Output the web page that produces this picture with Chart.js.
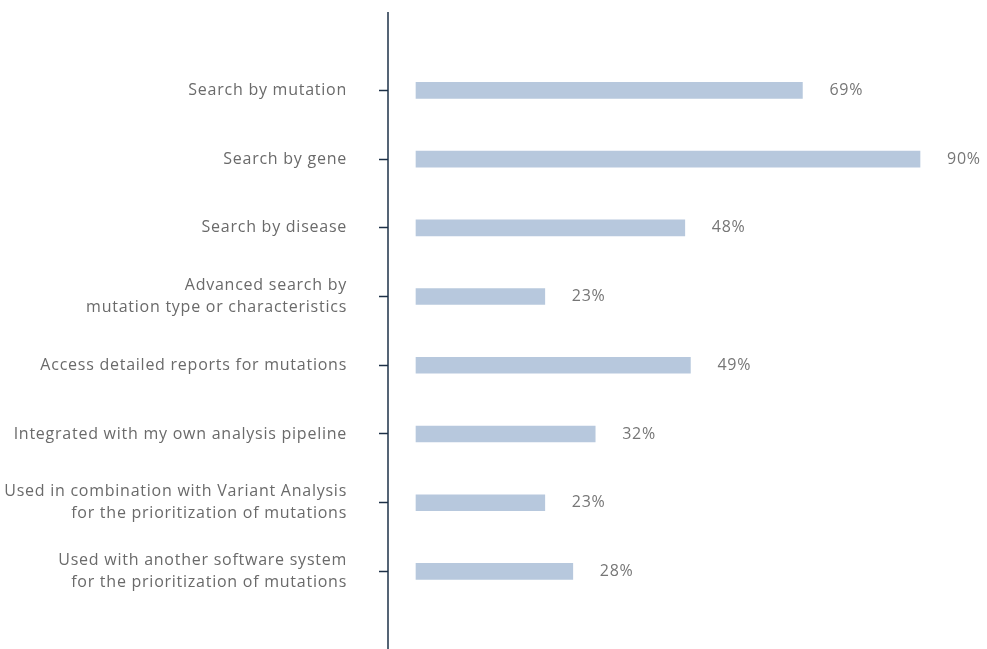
<!DOCTYPE html>
<html>
<head>
<meta charset="utf-8">
<script src="https://cdn.jsdelivr.net/npm/chart.js@4"></script>
<style>
  html, body { margin: 0; padding: 0; background: #fff; }
  #wrap { width: 987px; height: 649px; }
</style>
</head>
<body>
<div id="wrap"><canvas id="usageChart" width="987" height="649"></canvas></div>
<script>
// categorias (multi-linea como en la imagen)
const features = [
    'Search by mutation',
    'Search by gene',
    'Search by disease',
    ['Advanced search by', 'mutation type or characteristics'],
    'Access detailed reports for mutations',
    'Integrated with my own analysis pipeline',
    ['Used in combination with Variant Analysis', 'for the prioritization of mutations'],
    ['Used with another software system', 'for the prioritization of mutations']
];
const percents = [69, 90, 48, 23, 49, 32, 23, 28];

const fontFamily = '"Open Sans", "Noto Sans", sans-serif';

// texto un poco mas espaciado, como la fuente del original
const spacing = {
    id: 'spacing',
    beforeDraw(chart) {
        chart.ctx.letterSpacing = '0.75px';
    }
};

// linea vertical del eje, de arriba hasta abajo
const axisLine = {
    id: 'axisLine',
    afterDraw(chart) {
        const ctx = chart.ctx;
        const x = chart.chartArea.left;
        ctx.save();
        ctx.strokeStyle = '#1d3047';
        ctx.lineWidth = 1.5;
        ctx.beginPath();
        ctx.moveTo(x, 12);
        ctx.lineTo(x, chart.height);
        ctx.stroke();
        ctx.restore();
    }
};

// etiquetas de porcentaje al final de cada barra
const valueLabels = {
    id: 'valueLabels',
    afterDatasetsDraw(chart) {
        const ctx = chart.ctx;
        const meta = chart.getDatasetMeta(0);
        ctx.save();
        ctx.fillStyle = '#767676';
        ctx.font = '16px ' + fontFamily;
        ctx.textAlign = 'left';
        ctx.textBaseline = 'middle';
        meta.data.forEach((bar, i) => {
            ctx.fillText(percents[i] + '%', bar.x + 27, bar.y);
        });
        ctx.restore();
    }
};

const ctx = document.getElementById('usageChart').getContext('2d');
new Chart(ctx, {
    type: 'bar',
    data: {
        labels: features,
        datasets: [{
            data: percents,
            backgroundColor: '#b7c8dd',
            barThickness: 16,
        }]
    },
    options: {
        indexAxis: 'y',
        responsive: false,
        animation: false,
        layout: { padding: { top: 56, bottom: 34, left: 0, right: 11 } },
        plugins: {
            legend: { display: false },
            tooltip: { enabled: false },
        },
        scales: {
            x: {
                display: false,
                min: -5,
                max: 100,
            },
            y: {
                afterFit: (scale) => { scale.width = 388; },
                border: { display: false },
                grid: {
                    offset: false,
                    drawOnChartArea: false,
                    tickLength: 9,
                    tickWidth: 1.5,
                    tickColor: '#1d3047',
                },
                ticks: {
                    padding: 32,
                    color: '#6a6a6a',
                    font: { family: fontFamily, size: 16, lineHeight: 1.4 },
                },
            },
        },
    },
    plugins: [spacing, axisLine, valueLabels],
});
</script>
</body>
</html>
